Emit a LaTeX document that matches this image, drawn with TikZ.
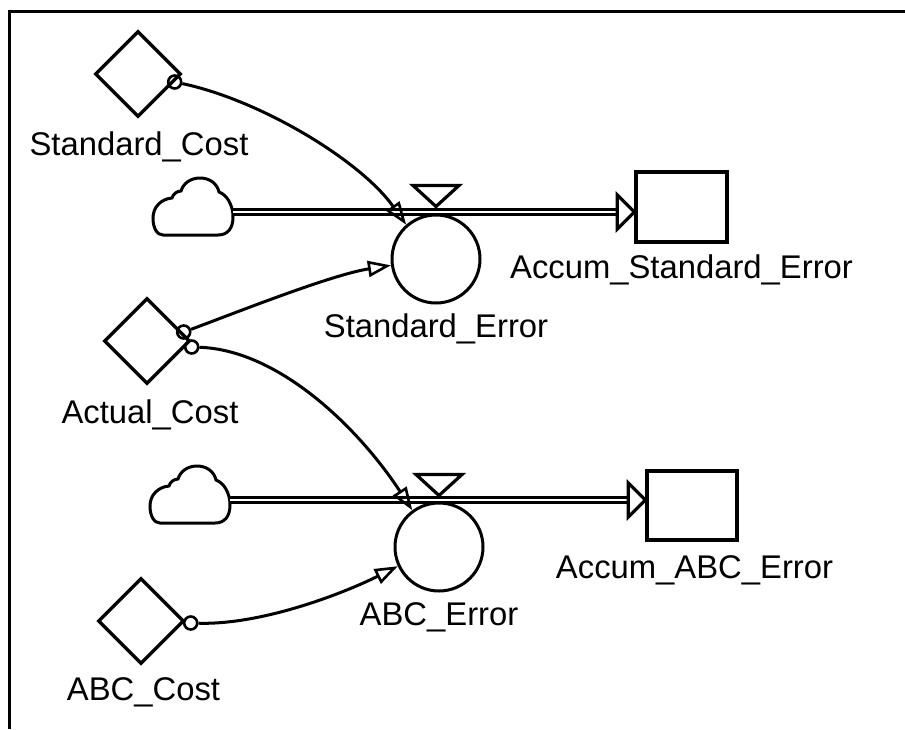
\documentclass[tikz,border=0pt]{standalone}
\usepackage{fontspec}
\setmainfont{Liberation Sans}
\usetikzlibrary{shapes.geometric,arrows.meta,calc}
\begin{document}
\begin{tikzpicture}[x=1pt,y=-1pt,
  conv/.style={draw, diamond, aspect=1, minimum size=86pt, inner sep=0pt, line width=3.4pt},
  aux/.style={draw, circle, minimum size=88pt, inner sep=0pt, line width=3pt},
  stock/.style={draw, rectangle, minimum width=91pt, minimum height=70pt, inner sep=0pt, line width=3.4pt},
  lbl/.style={anchor=base, inner sep=0pt, font=\fontsize{32.8}{36}\selectfont},
  link/.style={line width=3pt, -{Triangle[open, length=23pt, width=16pt, line width=2.6pt]}},
  tail/.style={draw, circle, line width=2.6pt, minimum size=13pt, inner sep=0pt},
  pipe/.style={line width=2.6pt, double=white, double distance=2.6pt},
  pipehead/.style={line width=3.2pt, fill=white, line join=miter},
  valve/.style={line width=3.2pt, fill=white, line join=miter},
  frame/.style={line width=3.5pt},
  cloudline/.style={line width=3pt},
  cloudshape/.pic={
    \draw[cloudline] (-30,28) -- (25,28) .. controls (35,28) and (40,21) .. (40,10)
      .. controls (40,-2) and (34,-12) .. (26,-15)
      .. controls (24,-24) and (16,-29) .. (7,-29)
      .. controls (-3,-29) and (-10,-23) .. (-12,-16)
      .. controls (-16,-16) and (-20,-13) .. (-21,-9)
      .. controls (-32,-8) and (-40,0) .. (-40,11)
      .. controls (-40,21) and (-36,28) .. (-30,28) -- cycle;
    \coordinate (-r) at (40,5);
  }
]
\useasboundingbox (0,0) rectangle (905,729);
\draw[frame] (9.5,729) -- (9.5,11.5) -- (905,11.5);

% converters
\node[conv] (sc) at (138,74) {};
\node[lbl] (scl) at (139,155) {Standard\_Cost};
\node[conv] (ac) at (147,341) {};
\node[lbl] (acl) at (150,423) {Actual\_Cost};
\node[conv] (bc) at (141,621) {};
\node[lbl] (bcl) at (143.5,700) {ABC\_Cost};

% auxiliaries (flows)
\node[aux] (se) at (436,259) {};
\node[lbl] (sel) at (436,337) {Standard\_Error};
\node[aux] (be) at (439,547) {};
\node[lbl] (bel) at (439,625) {ABC\_Error};

% stocks
\node[stock] (ss) at (681.5,207) {};
\node[lbl] (ssl) at (681.5,278) {Accum\_Standard\_Error};
\node[stock, minimum width=90pt, minimum height=69pt] (bs) at (692,505.5) {};
\node[lbl] (bsl) at (694.5,578) {Accum\_ABC\_Error};

% clouds
\pic (cl1) at (193,207) {cloudshape};
\pic (cl2) at (190,495) {cloudshape};

% pipes
\coordinate (t1) at (ss.west |- cl1-r);
\coordinate (t2) at (bs.west |- cl2-r);
\draw[pipe] (cl1-r) -- ($(t1)+(-15,0)$);
\draw[pipe] (cl2-r) -- ($(t2)+(-15,0)$);
\draw[pipehead] ($(t1)+(-17,-17)$) -- (t1) -- ($(t1)+(-17,17)$) -- cycle;
\draw[pipehead] ($(t2)+(-17,-17)$) -- (t2) -- ($(t2)+(-17,17)$) -- cycle;

% valves
\draw[valve] ($(se.north)+(-23,-28)$) -- ($(se.north)+(23,-28)$) -- ($(se.north)+(0,-7)$) -- cycle;
\draw[valve] ($(be.north)+(-23,-27)$) -- ($(be.north)+(23,-27)$) -- ($(be.north)+(0,-6)$) -- cycle;

% connector tails
\node[tail] (tsc) at ($(sc.east)+(-8,8)$) {};
\node[tail] (tac1) at ($(ac.east)+(-8,-9)$) {};
\node[tail] (tac2) at ($(ac.east)+(0,6)$) {};
\node[tail] (tbc) at ($(bc.east)+(5,2)$) {};

% connectors
\draw[link] (tsc) .. controls (260,100) and (360,160) .. (se.131.5);
\draw[link] (tac1) .. controls (230,315) and (330,275) .. (se.188);
\draw[link] (tac2) .. controls (280,350) and (360,430) .. (be.126);
\draw[link] (tbc) .. controls (260,625) and (340,595) .. (be.205);
\end{tikzpicture}
\end{document}
